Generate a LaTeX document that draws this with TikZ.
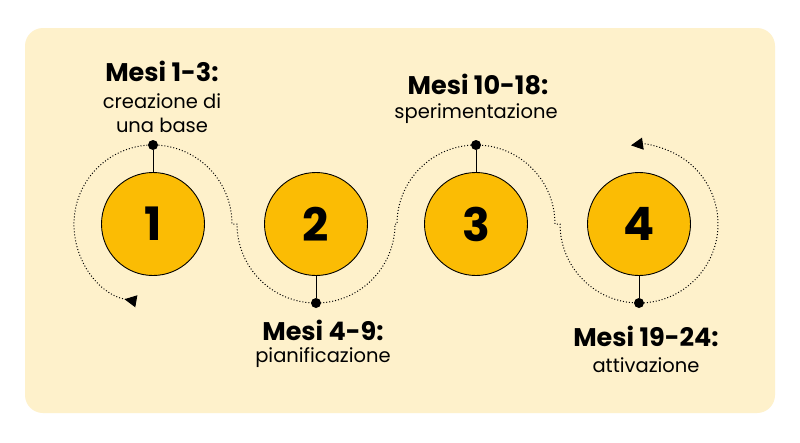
\documentclass[tikz,border=0pt]{standalone}
\usepackage{fontspec}
\setmainfont{Poppins}
\usetikzlibrary{arrows.meta}
\definecolor{cream}{HTML}{FEF1CB}
\definecolor{gold}{HTML}{FBBC04}
\begin{document}
\begin{tikzpicture}[x=1pt,y=-1pt,
  num/.style={circle,draw=black,line width=0.9pt,fill=gold,minimum size=103pt,inner sep=0pt,font=\fontsize{46}{46}\selectfont\bfseries},
  knob/.style={circle,fill=black,inner sep=0pt,minimum size=10pt},
  ttl/.style={font=\fontsize{25.5}{27}\selectfont\bfseries,inner sep=0pt},
  sub/.style={font=\fontsize{19.5}{24}\selectfont,inner sep=0pt,align=center},
  orbit/.style={dash pattern=on 1pt off 2pt,line width=1pt}]
\useasboundingbox (0,0) rectangle (800,442);
\fill[white] (0,0) rectangle (800,442);
\fill[cream,rounded corners=18pt] (25,28) rectangle (775,413);
\draw[orbit,{Triangle[width=12pt,length=12pt,sep=3pt,reversed]}-{Triangle[width=12pt,length=12pt,sep=3pt]}]
  (153,224) ++(100:79) arc[start angle=100,end angle=360,radius=79]
  -- (237,224) arc[start angle=180,end angle=0,radius=79]
  -- (397,224) arc[start angle=180,end angle=360,radius=79]
  -- (560,224) arc[start angle=180,end angle=-98,radius=79];
\node[num] (c1) at (153,224) {1};
\node[num] (c2) at (316,224) {2};
\node[num] (c3) at (476,224) {3};
\node[num] (c4) at (639,224) {4};
\node[knob] (k1) at (153,145) {};
\node[knob] (k2) at (316,303) {};
\node[knob] (k3) at (476,145) {};
\node[knob] (k4) at (639,303) {};
\draw[line width=0.9pt] (k1) -- (c1.north);
\draw[line width=0.9pt] (k2) -- (c2.south);
\draw[line width=0.9pt] (k3) -- (c3.north);
\draw[line width=0.9pt] (k4) -- (c4.south);
\node[ttl] (t1) at (162,71) {Mesi 1-3:};
\node[sub] (s1) at (162,113) {creazione di\\una base};
\node[ttl] (t3) at (478,84) {Mesi 10-18:};
\node[sub] (s3) at (476,114) {sperimentazione};
\node[ttl] (t2) at (323,330) {Mesi 4-9:};
\node[sub] (s2) at (323,358) {pianificazione};
\node[ttl] (t4) at (646,336) {Mesi 19-24:};
\node[sub] (s4) at (646,365) {attivazione};
\end{tikzpicture}
\end{document}
